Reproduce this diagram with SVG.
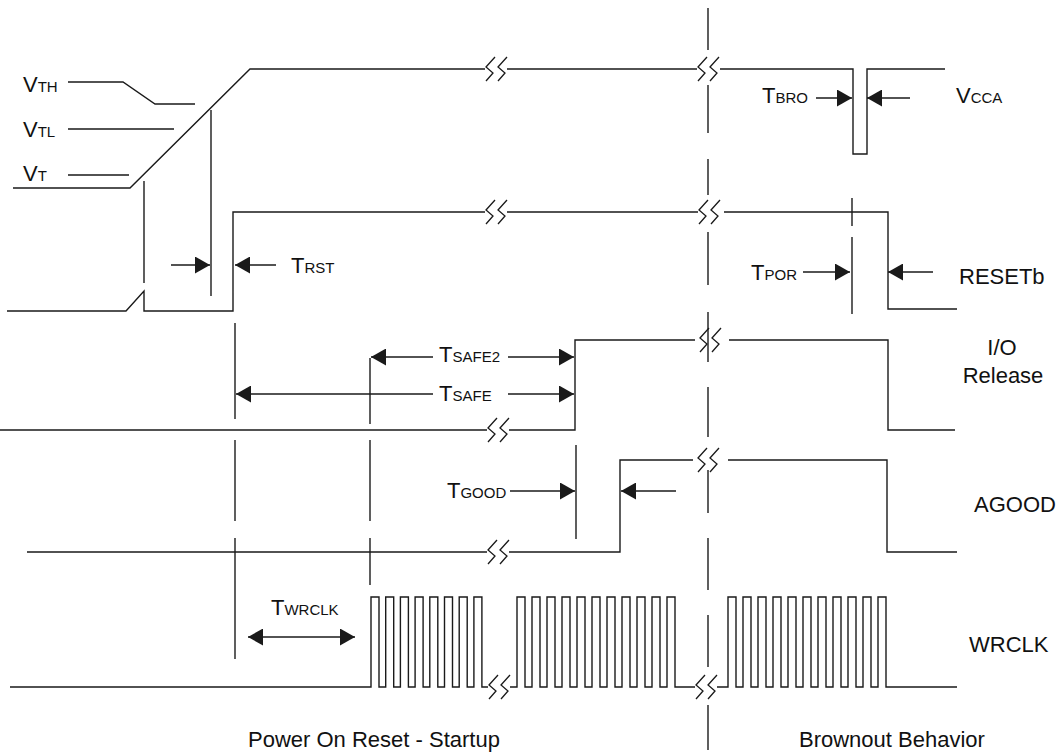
<svg xmlns="http://www.w3.org/2000/svg" xmlns:xlink="http://www.w3.org/1999/xlink" width="1060" height="753" viewBox="0 0 1060 753">
<style>
.w{fill:none;stroke:#1a1a1a;stroke-width:1.4;stroke-linejoin:miter}
.m{fill:none;stroke:#1a1a1a;stroke-width:1.4}
.a{fill:none;stroke:#1a1a1a;stroke-width:1.4;marker-end:url(#ah)}
.d{fill:none;stroke:#1a1a1a;stroke-width:1.4;marker-start:url(#ah);marker-end:url(#ah)}
text{font-family:"Liberation Sans",Arial,sans-serif;fill:#111;font-size:22px}
.s{font-size:15px}
</style>
<defs>
<marker id="ah" markerUnits="userSpaceOnUse" markerWidth="15" markerHeight="17" viewBox="0 0 15 17" refX="15" refY="8.5" orient="auto-start-reverse">
<path d="M0,0 L15,8.5 L0,17 Z" fill="#1a1a1a"/>
</marker>
<g id="brk" fill="none" stroke="#1a1a1a" stroke-width="1.3">
<polyline points="10,-12 1,-2 8,4 1,12"/>
<polyline points="22,-12 13,-2 20,4 13,12"/>
</g>
</defs>
<rect width="1060" height="753" fill="#fff"/>

<g id="connectors">
<g id="divider">
<line class="m" x1="708" y1="8" x2="708" y2="50"/>
<line class="m" x1="708" y1="85" x2="708" y2="133"/>
<line class="m" x1="708" y1="159" x2="708" y2="195"/>
<line class="m" x1="708" y1="232" x2="708" y2="285"/>
<line class="m" x1="708" y1="312" x2="708" y2="362"/>
<line class="m" x1="708" y1="387" x2="708" y2="437"/>
<line class="m" x1="708" y1="470" x2="708" y2="513"/>
<line class="m" x1="708" y1="538" x2="708" y2="590"/>
<line class="m" x1="708" y1="615" x2="708" y2="667"/>
<line class="m" x1="708" y1="705" x2="708" y2="750"/>
</g>
<line class="m" x1="211" y1="110" x2="211" y2="296"/>
<line class="m" x1="144" y1="181" x2="144" y2="283"/>
<line class="m" x1="235" y1="323" x2="235" y2="419"/>
<line class="m" x1="235" y1="440" x2="235" y2="521"/>
<line class="m" x1="235" y1="538" x2="235" y2="659"/>
<line class="m" x1="370" y1="358" x2="370" y2="424"/>
<line class="m" x1="370" y1="440" x2="370" y2="521"/>
<line class="m" x1="370" y1="538" x2="370" y2="585"/>
<line class="m" x1="576" y1="445" x2="576" y2="539"/>
<line class="m" x1="852" y1="198" x2="852" y2="226"/>
<line class="m" x1="852" y1="237" x2="852" y2="314"/>
<line class="a" x1="171" y1="265" x2="210" y2="265"/>
<line class="a" x1="276" y1="265" x2="235" y2="265"/>
<line class="a" x1="816" y1="98" x2="852" y2="98"/>
<line class="a" x1="910" y1="98" x2="867" y2="98"/>
<line class="a" x1="803" y1="272" x2="850" y2="272"/>
<line class="a" x1="933" y1="272" x2="888" y2="272"/>
<line class="a" x1="433" y1="357" x2="371" y2="357"/>
<line class="a" x1="508" y1="357" x2="574" y2="357"/>
<line class="a" x1="433" y1="394" x2="236" y2="394"/>
<line class="a" x1="508" y1="394" x2="574" y2="394"/>
<line class="a" x1="510" y1="491" x2="575" y2="491"/>
<line class="a" x1="676" y1="491" x2="621" y2="491"/>
<line class="d" x1="248" y1="637" x2="355" y2="637"/>
</g>

<g id="vcca">
<path class="w" d="M13,188 H130 L250,69 H485 M507,69 H697 M720,69 H853 V154 H867 V69 H945"/>
<path class="w" d="M68,82 H123 L155,104 H195 M68,129 H174 M68,175 H129"/>
<use href="#brk" x="485" y="69"/>
<use href="#brk" x="697" y="69"/>
<text x="23" y="92">V<tspan class="s">TH</tspan></text>
<text x="23" y="137">V<tspan class="s">TL</tspan></text>
<text x="23" y="181">V<tspan class="s">T</tspan></text>
<text x="762" y="103">T<tspan class="s">BRO</tspan></text>
<text x="956" y="103">V<tspan class="s">CCA</tspan></text>
</g>

<g id="resetb">
<path class="w" d="M7,311 H126 L144,291 V311 H233 V212 H485 M507,212 H698 M724,212 H888 V309 H957"/>
<use href="#brk" x="485" y="212"/>
<use href="#brk" x="698" y="212"/>
<text x="291" y="273">T<tspan class="s">RST</tspan></text>
<text x="751" y="280">T<tspan class="s">POR</tspan></text>
<text x="959" y="284">RESETb</text>
</g>

<g id="io-release">
<path class="w" d="M0,430 H487 M509,430 H575 V340 H695 M729,340 H888 V430 H955"/>
<use href="#brk" x="487" y="430"/>
<use href="#brk" x="699" y="340"/>
<text x="439" y="362">T<tspan class="s">SAFE2</tspan></text>
<text x="439" y="401">T<tspan class="s">SAFE</tspan></text>
<text x="1002" y="355" text-anchor="middle">I/O</text>
<text x="1003" y="383" text-anchor="middle">Release</text>
</g>

<g id="agood">
<path class="w" d="M27,552 H487 M509,552 H620 V460 H693 M728,460 H887 V552 H957"/>
<use href="#brk" x="487" y="552"/>
<use href="#brk" x="697" y="460"/>
<text x="447" y="498">T<tspan class="s">GOOD</tspan></text>
<text x="974" y="512">AGOOD</text>
</g>

<g id="wrclk">
<path class="w" d="M10,687 H371 V597 H379 V687 H385.7 V597 H393.7 V687 H400.4 V597 H408.4 V687 H415.1 V597 H423.1 V687 H429.8 V597 H437.8 V687 H444.5 V597 H452.5 V687 H459.2 V597 H467.2 V687 H473.9 V597 H481.9 V687 H488"/>
<path class="w" d="M510,687 H517 V597 H525 V687 H532 V597 H540 V687 H547 V597 H555 V687 H562 V597 H570 V687 H577 V597 H585 V687 H592 V597 H600 V687 H607 V597 H615 V687 H622 V597 H630 V687 H637 V597 H645 V687 H652 V597 H660 V687 H667 V597 H675 V687 H695"/>
<path class="w" d="M717,687 H728 V597 H736 V687 H743 V597 H751 V687 H758 V597 H766 V687 H773 V597 H781 V687 H788 V597 H796 V687 H803 V597 H811 V687 H818 V597 H826 V687 H833 V597 H841 V687 H848 V597 H856 V687 H863 V597 H871 V687 H878 V597 H886 V687 H957"/>
<use href="#brk" x="488" y="687"/>
<use href="#brk" x="695" y="687"/>
<text x="271" y="615">T<tspan class="s">WRCLK</tspan></text>
<text x="969" y="652">WRCLK</text>
</g>

<g id="captions">
<text x="248" y="747">Power On Reset - Startup</text>
<text x="799" y="747">Brownout Behavior</text>
</g>
</svg>
